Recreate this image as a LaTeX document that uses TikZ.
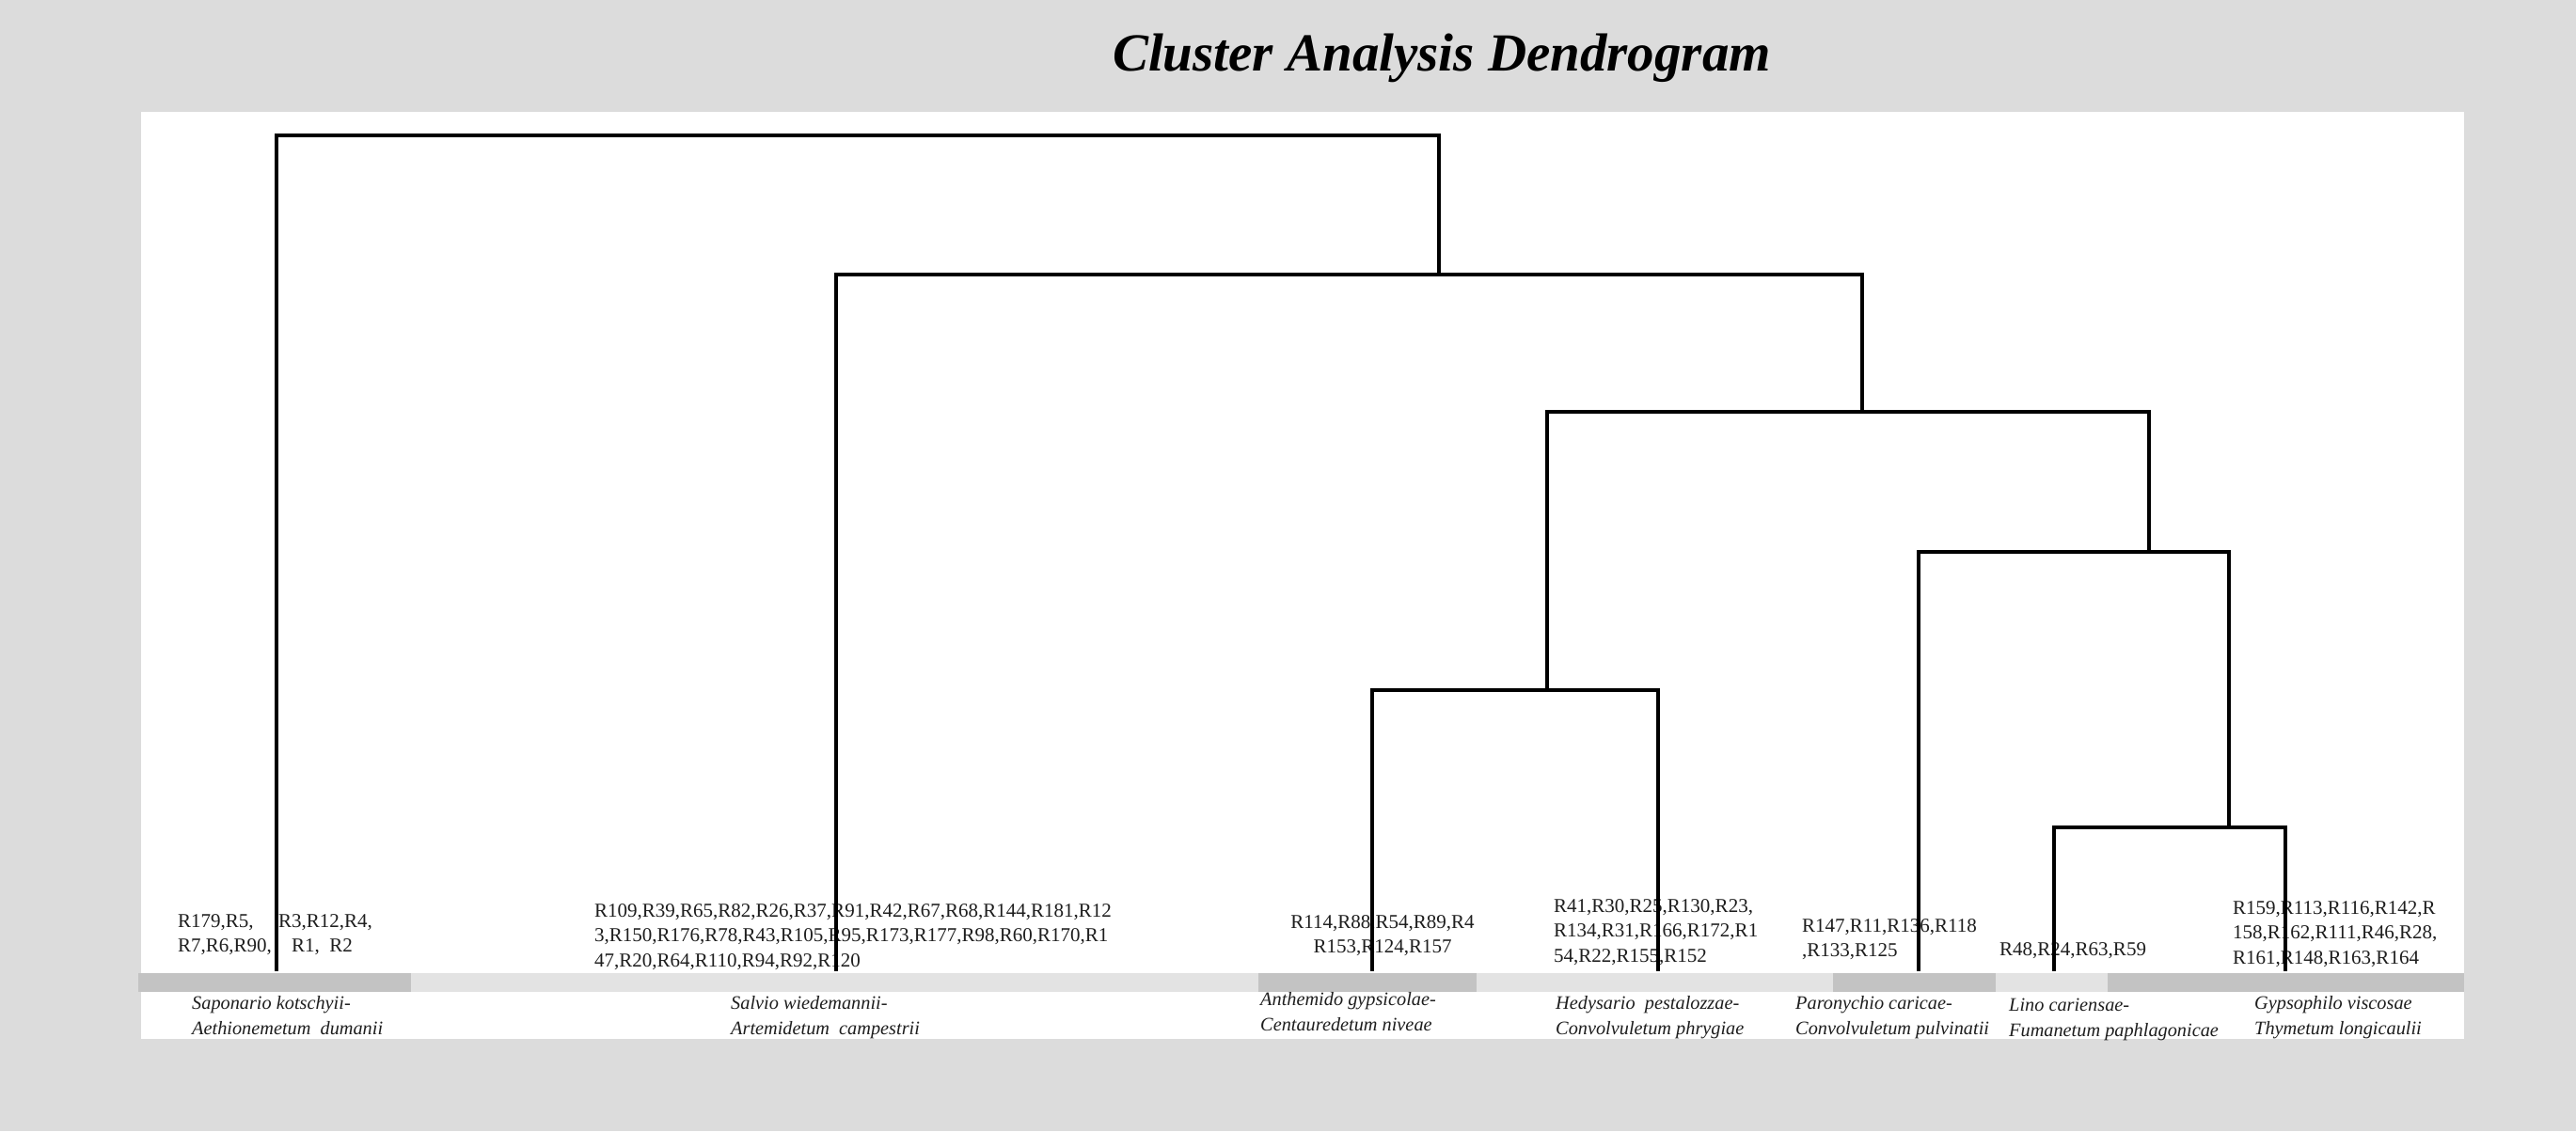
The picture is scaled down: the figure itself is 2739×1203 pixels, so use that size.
\documentclass[tikz,border=0pt]{standalone}
\usepackage{fontspec}
\setmainfont{Liberation Serif}
\definecolor{bgc}{HTML}{DCDCDC}
\definecolor{banddark}{HTML}{C3C3C3}
\definecolor{bandlight}{HTML}{E3E3E3}
\definecolor{txt}{HTML}{1E1E1E}
\tikzset{
  ids/.style={inner sep=0pt, anchor=north west, align=left, text=txt,
    font=\fontsize{21}{26.5}\selectfont},
  idsc/.style={ids, anchor=north, align=center},
  assoc/.style={inner sep=0pt, anchor=north west, align=left, text=txt,
    font=\fontsize{20.3}{27}\selectfont\itshape},
  branch/.style={line width=3.8pt, line cap=rect, line join=miter, black},
}
\begin{document}
\begin{tikzpicture}[x=1pt,y=-1pt]
\fill[bgc] (0,0) rectangle (2739,1203);
\useasboundingbox (0,0) rectangle (2739,1203);
\fill[white] (150,119) rectangle (2620,1105);
% title
\node[anchor=base, inner sep=0pt, font=\fontsize{57}{60}\selectfont\bfseries\itshape] (title) at (1533,75) {Cluster Analysis Dendrogram};
% bands
\fill[banddark]  (147,1035) rectangle (437,1055);
\fill[bandlight] (437,1035) rectangle (1338,1055);
\fill[banddark]  (1338,1035) rectangle (1570,1055);
\fill[bandlight] (1570,1035) rectangle (1949,1055);
\fill[banddark]  (1949,1035) rectangle (2122,1055);
\fill[bandlight] (2122,1035) rectangle (2241,1055);
\fill[banddark]  (2241,1035) rectangle (2620,1055);
% releve lists
\node[ids] (idsA1) at (189,972) {R179,R5,\\R7,R6,R90,};
\node[ids] (idsA2) at (296,972) {R3,R12,R4,\\\hspace*{14pt}R1,\ \ R2};
\node[ids] (idsB) at (632,961) {R109,R39,R65,R82,R26,R37,R91,R42,R67,R68,R144,R181,R12\\3,R150,R176,R78,R43,R105,R95,R173,R177,R98,R60,R170,R1\\47,R20,R64,R110,R94,R92,R120};
\node[idsc] (idsC) at (1470,973) {R114,R88,R54,R89,R4\\R153,R124,R157};
\node[ids] (idsD) at (1652,956) {R41,R30,R25,R130,R23,\\R134,R31,R166,R172,R1\\54,R22,R155,R152};
\node[ids] (idsE) at (1916,977) {R147,R11,R136,R118\\,R133,R125};
\node[ids] (idsF) at (2126,1002) {R48,R24,R63,R59};
\node[ids] (idsG) at (2374,958) {R159,R113,R116,R142,R\\158,R162,R111,R46,R28,\\R161,R148,R163,R164};
% association names
\node[assoc] (nA) at (204,1059) {Saponario kotschyii-\\Aethionemetum\ \ dumanii};
\node[assoc] (nB) at (777,1059) {Salvio wiedemannii-\\Artemidetum\ \ campestrii};
\node[assoc] (nC) at (1340,1055) {Anthemido gypsicolae-\\Centauredetum niveae};
\node[assoc] (nD) at (1654,1059) {Hedysario\ \ pestalozzae-\\Convolvuletum phrygiae};
\node[assoc] (nE) at (1909,1059) {Paronychio caricae-\\Convolvuletum pulvinatii};
\node[assoc] (nF) at (2136,1062) {Lino cariensae-\\Fumanetum paphlagonicae};
\node[assoc] (nG) at (2397,1059) {Gypsophilo viscosae\\Thymetum longicaulii};
% leaves
\coordinate (lA) at (294,1031);
\coordinate (lB) at (889,1031);
\coordinate (lC) at (1459,1031);
\coordinate (lD) at (1763,1031);
\coordinate (lE) at (2040,1031);
\coordinate (lF) at (2184,1031);
\coordinate (lG) at (2430,1031);
% joins
\coordinate (jCD) at (1645,734);
\coordinate (jFG) at (2370,880);
\coordinate (jEFG) at (2285,587);
\coordinate (jCG) at (1980,438);
\coordinate (jBG) at (1530,292);
\coordinate (jAll) at (900,144);
% branches
\draw[branch] (lC) |- (jCD) -| (lD);
\draw[branch] (lF) |- (jFG) -| (lG);
\draw[branch] (lE) |- (jEFG) -| (jFG);
\draw[branch] (jCD) |- (jCG) -| (jEFG);
\draw[branch] (lB) |- (jBG) -| (jCG);
\draw[branch] (lA) |- (jAll) -| (jBG);
\end{tikzpicture}
\end{document}
